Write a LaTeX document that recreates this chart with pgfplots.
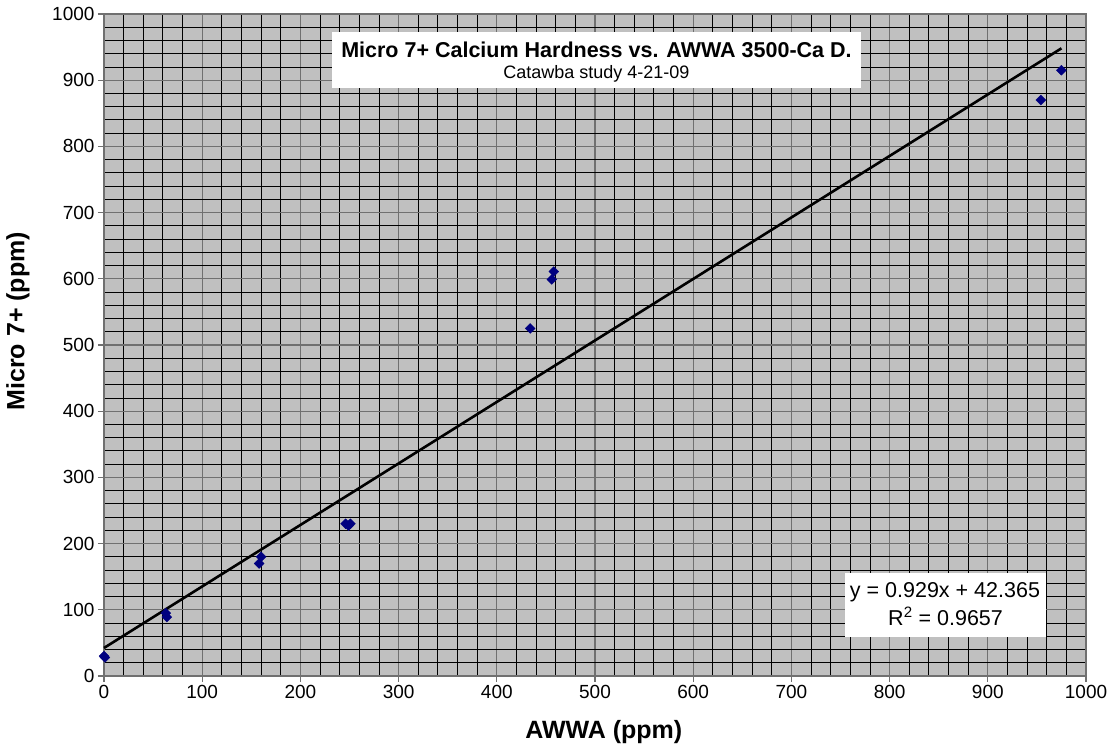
\documentclass[border=0pt]{standalone}
\usepackage{fontspec}
\setmainfont{Liberation Sans}
\usepackage{pgfplots}
\pgfplotsset{compat=1.18}

\definecolor{plotbg}{HTML}{C0C0C0}
\definecolor{majgrid}{HTML}{707070}
\definecolor{mknavy}{HTML}{000080}

% measured points (AWWA ppm, Micro 7+ ppm)
\begin{document}
\begin{tikzpicture}
\useasboundingbox (-104pt,-74pt) rectangle (1008pt,676pt);
\begin{axis}[
    scale only axis,
    width=982pt, height=662pt,
    xmin=0, xmax=1000, ymin=0, ymax=1000,
    xtick distance=100, ytick distance=100,
    minor tick num=4,
    grid=both,
    major grid style={majgrid, line width=1.3pt},
    minor grid style={black, line width=0.9pt},
    axis background/.style={fill=plotbg},
    axis line style={draw=majgrid, line width=1.3pt},
    tick align=outside,
    major tick length=6pt, minor tick length=0pt,
    xtick pos=left, ytick pos=left,
    every tick/.style={majgrid, line width=1.3pt},
    /pgf/number format/assume math mode=true,
    /pgf/number format/1000 sep={},
    tick label style={font=\fontsize{19}{19}\selectfont},
    xlabel={AWWA (ppm)},
    ylabel={Micro 7+ (ppm)},
    label style={font=\fontsize{25}{25}\selectfont\bfseries},
    xlabel style={at={(axis description cs:0.509,-0.0937)}, anchor=base},
    ylabel style={at={(axis description cs:-0.0876,0.536)}, anchor=center},
    clip=false,
]

% title box
\fill[white] (axis cs:232,888) rectangle (axis cs:771,973);
\node[anchor=base, font=\fontsize{21.5}{21.5}\selectfont\bfseries] at (axis cs:501.5,935) {Micro 7+ Calcium Hardness vs. AWWA 3500-Ca D.};
\node[anchor=base, font=\fontsize{18}{18}\selectfont] at (axis cs:501.5,903) {Catawba study 4-21-09};

% equation box
\fill[white] (axis cs:754.6,58.9) rectangle (axis cs:959.3,155.6);
\node[anchor=base, font=\fontsize{21.5}{21.5}\selectfont] at (axis cs:856.4,118.9) {y = 0.929x + 42.365};
\node[anchor=base, font=\fontsize{21.5}{21.5}\selectfont] at (axis cs:857,77) {R\textsuperscript{2} = 0.9657};

% linear trendline
\addplot[black, line width=2.6pt] coordinates {(0,42.365) (975,948.14)};

\addplot[only marks, mark=square*, mark size=3.5pt,
    mark options={rotate=45, fill=mknavy, draw=mknavy}] coordinates {
    (0,30) (1,28)
    (63,95) (64,89)
    (158,170) (160,180)
    (246,230) (251,230) (249,227)
    (434,525)
    (456,599) (458,611)
    (954,870) (975,915)
};

\end{axis}
\end{tikzpicture}
\end{document}
